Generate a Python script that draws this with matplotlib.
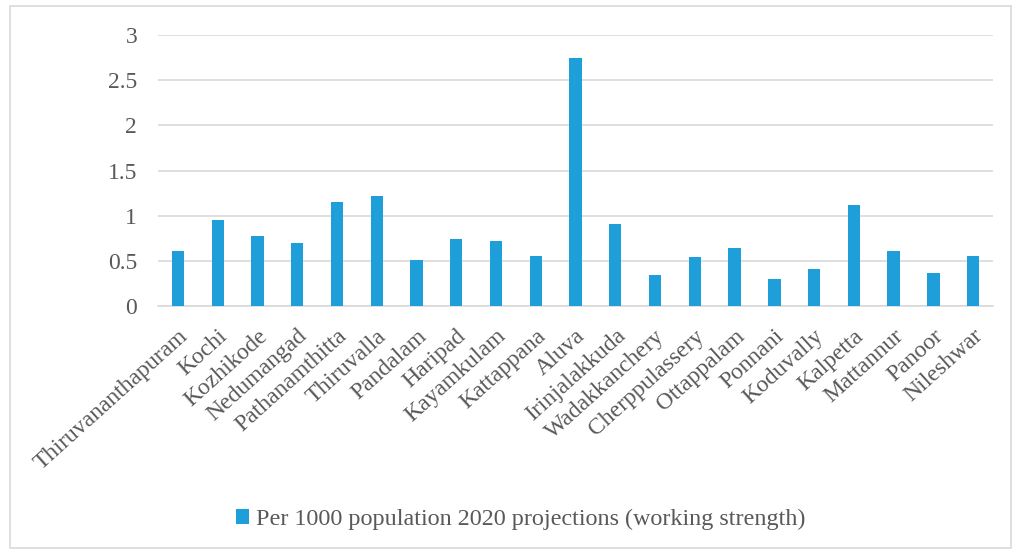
import matplotlib.pyplot as plt
from matplotlib.patches import Rectangle

towns = ['Thiruvananthapuram', 'Kochi', 'Kozhikode', 'Nedumangad', 'Pathanamthitta',
         'Thiruvalla', 'Pandalam', 'Haripad', 'Kayamkulam', 'Kattappana', 'Aluva',
         'Irinjalakkuda', 'Wadakkanchery', 'Cherppulassery', 'Ottappalam', 'Ponnani',
         'Koduvally', 'Kalpetta', 'Mattannur', 'Panoor', 'Nileshwar']
per1000 = [0.61, 0.95, 0.77, 0.70, 1.15, 1.22, 0.51, 0.74, 0.72, 0.55, 2.74,
           0.91, 0.34, 0.54, 0.64, 0.30, 0.41, 1.12, 0.61, 0.37, 0.55]
yticks = [0, 0.5, 1, 1.5, 2, 2.5, 3]
ylabels = ['0', '0.5', '1', '1.5', '2', '2.5', '3']

plt.rcParams['font.family'] = ['Liberation Serif', 'DejaVu Serif']
txt = '#595959'

fig = plt.figure(figsize=(10.21, 5.51), dpi=100)
ax = fig.add_axes([0.1548, 0.4446, 0.8178, 0.4919])

x = range(len(towns))
ax.bar(x, per1000, width=0.31, color='#1f9fd9', zorder=3,
       label='Per 1000 population 2020 projections (working strength)')

ax.set_xlim(-0.5, len(towns) - 0.5)
ax.set_ylim(0, 3)
ax.set_yticks(yticks)
ax.set_yticklabels(ylabels, fontsize=17, color=txt)
ax.set_xticks(list(x))
ax.set_xticklabels(towns, rotation=42, ha='right', va='top', rotation_mode='anchor',
                   fontsize=17, color=txt)
ax.tick_params(axis='y', length=0, pad=15)
ax.tick_params(axis='x', length=0, pad=14)
ax.yaxis.grid(True, color='#d9d9d9', linewidth=1.2, zorder=0)
for s in ['top', 'right', 'left']:
    ax.spines[s].set_visible(False)
ax.spines['bottom'].set_color('#d9d9d9')
ax.spines['bottom'].set_linewidth(1.2)

leg = fig.legend(loc='center', bbox_to_anchor=(0.51, 0.057), frameon=False,
                 fontsize=17.4, handlelength=0.55, handleheight=0.55, handletextpad=0.3)
for t in leg.get_texts():
    t.set_color(txt)

fig.patches.append(Rectangle((0.01, 0.005), 0.98, 0.984, transform=fig.transFigure,
                             fill=False, edgecolor='#d9d9d9', linewidth=1.2))

fig.savefig('out.png', dpi=100)
